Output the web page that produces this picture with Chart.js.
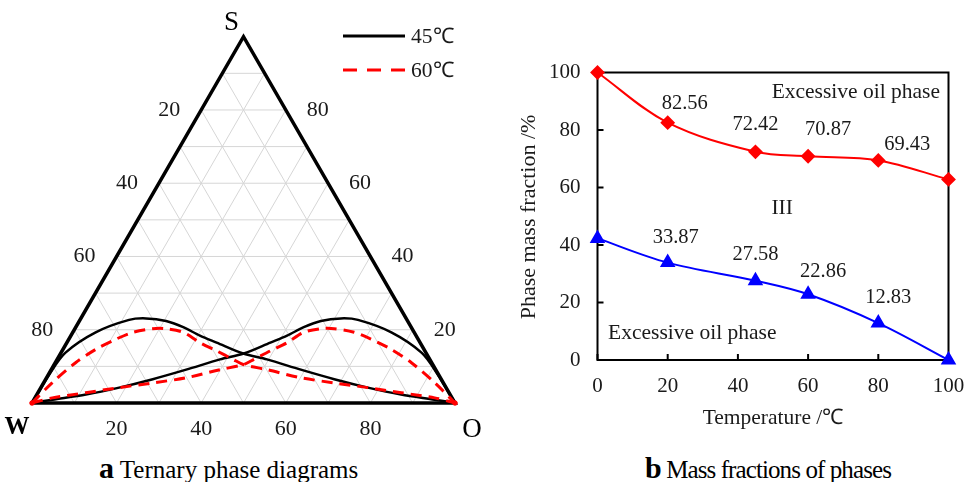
<!DOCTYPE html>
<html>
<head>
<meta charset="utf-8">
<script src="https://cdn.jsdelivr.net/npm/chart.js@4.4.0/dist/chart.umd.min.js"></script>
<style>
html, body { margin: 0; padding: 0; background: #fff; }
body { width: 965px; height: 482px; position: relative; overflow: hidden; font-family: "Liberation Serif", serif; }
#ternWrap { position: absolute; left: 0; top: 0; width: 490px; height: 440px; }
#massWrap { position: absolute; left: 480px; top: 0; width: 485px; height: 440px; }
.caption { position: absolute; top: 451px; font-size: 25px; color: #000; white-space: nowrap; }
.caption b { font-size: 30px; }
.caption.tight { letter-spacing: -0.9px; }
</style>
</head>
<body>
<div id="ternWrap"><canvas id="ternChart" width="490" height="440"></canvas></div>
<div id="massWrap"><canvas id="massChart" width="485" height="440"></canvas></div>
<div class="caption" style="left:99px"><b>a</b> Ternary phase diagrams</div>
<div class="caption tight" style="left:645px"><b>b</b> Mass fractions of phases</div>
<script>
// ---- panel a: ternary phase diagram, compositions in % (S, O; W = 100 - S - O)
const ternTicks = [10, 20, 30, 40, 50, 60, 70, 80, 90];
const ternLabels = [20, 40, 60, 80];

const b45LeftS = [0, 8, 13.7, 19.3, 22.7, 23.1, 22.4, 20.7, 18.4, 16.5, 13.5, 11.9, 9.1, 6.5, 4.2, 2.3, 0.9, 0];
const b45LeftO = [0, 0.2, 1, 5.4, 11.6, 15.4, 20.5, 25.4, 30.5, 35.4, 43.2, 49.6, 59, 68.2, 77.3, 86.1, 94.7, 100];
const b45RightS = [0, 0.9, 2.3, 4.2, 6.5, 9.1, 11.9, 13.5, 16.5, 18.4, 20.7, 22.4, 23.1, 22.7, 19.3, 13.7, 8, 0];
const b45RightO = [0, 4.4, 11.6, 18.5, 25.3, 31.9, 38.5, 43.3, 48.1, 51.1, 53.9, 57.1, 61.5, 65.7, 75.3, 85.3, 91.8, 100];

const b60LeftS = [0, 5.5, 11, 14.7, 17.4, 19.3, 20.3, 20.3, 19.3, 16.5, 14.2, 11.9, 10.5, 9.1, 6.9, 5.5, 4.2, 2.8, 1.4, 0];
const b60LeftO = [0, 2, 4.8, 7.8, 11.1, 14.2, 18.4, 21.5, 26.1, 31.4, 36.6, 41.6, 44.7, 51, 60, 68.6, 77.3, 85.9, 94.5, 100];
const b60RightS = [0, 1.4, 2.8, 4.2, 5.5, 6.9, 9.1, 10.5, 11.9, 14.2, 16.5, 19.3, 20.3, 20.3, 19.3, 17.4, 14.7, 11, 5.5, 0];
const b60RightO = [0, 4.1, 11.3, 18.5, 25.9, 33.1, 39.9, 44.8, 46.5, 49.2, 52.1, 54.6, 58.2, 61.3, 66.5, 71.5, 77.5, 84.2, 92.5, 100];

// ---- panel b: mass fractions
const temps = [0, 20, 45, 60, 80, 100];
const upperPhase = [100, 82.56, 72.42, 70.87, 69.43, 62.8];
const lowerPhase = [42.3, 33.87, 27.58, 22.86, 12.83, 0];
const upperTags = ['', '82.56', '72.42', '70.87', '69.43', ''];
const lowerTags = ['', '33.87', '27.58', '22.86', '12.83', ''];
const axisTicks = [0, 20, 40, 60, 80, 100];

const H = Math.sqrt(3) / 2;
function toXY(s, o) {
    return { x: o + s / 2, y: s * H };
}
function curve(sArr, oArr) {
    return sArr.map((s, i) => toXY(s, oArr[i]));
}

const serif = '"Liberation Serif", "Times New Roman", serif';

// grid lines of the triangle
const gridSets = [];
ternTicks.forEach(k => {
    [[toXY(k, 0), toXY(k, 100 - k)],
     [toXY(0, k), toXY(100 - k, k)],
     [toXY(0, 100 - k), toXY(100 - k, 0)]].forEach(seg => {
        gridSets.push({
            data: seg, showLine: true, borderColor: '#d6d6d6', borderWidth: 1,
            pointRadius: 0, tension: 0, order: 5
        });
    });
});

function endDot(ctx) {
    const n = ctx.dataset.data.length;
    return (ctx.dataIndex === 0 || ctx.dataIndex === n - 1) ? 2.5 : 0;
}

const ternLabelsPlugin = {
    id: 'ternLabels',
    afterDraw(chart) {
        const c = chart.ctx;
        const xs = chart.scales.x, ys = chart.scales.y;
        const px = p => [xs.getPixelForValue(p.x), ys.getPixelForValue(p.y)];
        c.save();
        c.fillStyle = '#1a1a1a';
        c.font = '22px ' + serif;
        c.textAlign = 'center';
        c.textBaseline = 'middle';
        ternLabels.forEach(k => {
            let p = px(toXY(0, k));
            c.fillText(String(k), p[0], p[1] + 26);
            p = px(toXY(100 - k, 0));
            c.fillText(String(k), p[0] - 32, p[1]);
            p = px(toXY(k, 100 - k));
            c.fillText(String(k), p[0] + 32, p[1]);
        });
        c.fillStyle = '#000';
        c.font = '27px ' + serif;
        let p = px(toXY(100, 0));
        c.fillText('S', p[0] - 12, p[1] - 14);
        p = px(toXY(0, 100));
        c.fillText('O', p[0] + 17, p[1] + 27);
        c.font = 'bold 25px ' + serif;
        p = px(toXY(0, 0));
        c.fillText('W', p[0] - 15, p[1] + 25);

        // legend
        c.lineWidth = 3;
        c.strokeStyle = '#000';
        c.beginPath(); c.moveTo(343, 36); c.lineTo(405, 36); c.stroke();
        c.strokeStyle = '#ff0000';
        c.setLineDash([14, 10]);
        c.beginPath(); c.moveTo(343, 70); c.lineTo(405, 70); c.stroke();
        c.setLineDash([]);
        c.fillStyle = '#1a1a1a';
        c.font = '21.5px ' + serif;
        c.textAlign = 'left';
        c.fillText('45\u2103', 411, 37);
        c.fillText('60\u2103', 411, 71);
        c.restore();
    }
};

new Chart(document.getElementById('ternChart'), {
    type: 'scatter',
    data: {
        datasets: [
            { data: curve(b60LeftS, b60LeftO), showLine: true, borderColor: '#ff0000', borderWidth: 3,
              borderDash: [11, 7], tension: 0.3, pointRadius: endDot, pointBackgroundColor: '#ff0000',
              pointBorderWidth: 0, order: 1, clip: false },
            { data: curve(b60RightS, b60RightO), showLine: true, borderColor: '#ff0000', borderWidth: 3,
              borderDash: [11, 7], tension: 0.3, pointRadius: endDot, pointBackgroundColor: '#ff0000',
              pointBorderWidth: 0, order: 1, clip: false },
            { data: curve(b45LeftS, b45LeftO), showLine: true, borderColor: '#000', borderWidth: 2.5,
              tension: 0.3, pointRadius: 0, order: 2, clip: false },
            { data: curve(b45RightS, b45RightO), showLine: true, borderColor: '#000', borderWidth: 2.5,
              tension: 0.3, pointRadius: 0, order: 2, clip: false },
            { data: [toXY(0, 0), toXY(0, 100), toXY(100, 0), toXY(0, 0)], showLine: true,
              borderColor: '#000', borderWidth: 3.5, tension: 0, pointRadius: 0, order: 3, clip: false,
              borderJoinStyle: 'miter' },
            ...gridSets
        ]
    },
    options: {
        responsive: false,
        animation: false,
        layout: { padding: { left: 32, right: 35, top: 36.7, bottom: 37 } },
        scales: {
            x: { type: 'linear', min: 0, max: 100, display: false },
            y: { type: 'linear', min: 0, max: 100 * H, display: false }
        },
        plugins: { legend: { display: false }, tooltip: { enabled: false } }
    },
    plugins: [ternLabelsPlugin]
});

// ---- panel b
const tagShiftUpper = [null, [17, -19], [0, -27], [20, -27], [29, -16], null];
const tagShiftLower = [null, [8, -25], [0, -26], [15, -23], [10, -26], null];
const notes = [
    { text: 'Excessive oil phase', x: 73.6, y: 93.2 },
    { text: 'III', x: 52.6, y: 52.9 },
    { text: 'Excessive oil phase', x: 27, y: 9.4 }
];

const massPlugin = {
    id: 'massDecor',
    beforeDatasetsDraw(chart) {
        const c = chart.ctx, a = chart.chartArea;
        const xs = chart.scales.x, ys = chart.scales.y;
        c.save();
        c.strokeStyle = '#000';
        c.lineWidth = 2;
        c.strokeRect(a.left, a.top, a.right - a.left, a.bottom - a.top);
        c.beginPath();
        axisTicks.forEach(v => {
            const x = xs.getPixelForValue(v);
            c.moveTo(x, a.bottom); c.lineTo(x, a.bottom - 6);
            const y = ys.getPixelForValue(v);
            c.moveTo(a.left, y); c.lineTo(a.left + 6, y);
        });
        c.stroke();
        c.restore();
    },
    afterDraw(chart) {
        const c = chart.ctx;
        const xs = chart.scales.x, ys = chart.scales.y;
        c.save();
        c.fillStyle = '#1a1a1a';
        c.font = '20.5px ' + serif;
        c.textAlign = 'center';
        c.textBaseline = 'middle';
        temps.forEach((t, i) => {
            if (upperTags[i]) {
                const s = tagShiftUpper[i];
                c.fillText(upperTags[i], xs.getPixelForValue(t) + s[0], ys.getPixelForValue(upperPhase[i]) + s[1]);
            }
            if (lowerTags[i]) {
                const s = tagShiftLower[i];
                c.fillText(lowerTags[i], xs.getPixelForValue(t) + s[0], ys.getPixelForValue(lowerPhase[i]) + s[1]);
            }
        });
        c.font = '21.5px ' + serif;
        notes.forEach(n => c.fillText(n.text, xs.getPixelForValue(n.x), ys.getPixelForValue(n.y)));
        c.fillText('Temperature /\u2103', 293, 418);
        c.translate(49, 217);
        c.rotate(-Math.PI / 2);
        c.font = '22px ' + serif;
        c.fillText('Phase mass fraction /%', 0, 0);
        c.restore();
    }
};

const tickFont = { family: serif, size: 21 };

new Chart(document.getElementById('massChart'), {
    type: 'line',
    data: {
        datasets: [{
            data: temps.map((t, i) => ({ x: t, y: upperPhase[i] })),
            borderColor: '#ff0000', backgroundColor: '#ff0000', borderWidth: 2,
            pointStyle: 'rectRot', pointRadius: 6, tension: 0.35, clip: false
        }, {
            data: temps.map((t, i) => ({ x: t, y: lowerPhase[i] })),
            borderColor: '#0000ff', backgroundColor: '#0000ff', borderWidth: 2,
            pointStyle: 'triangle', pointRadius: 7, tension: 0.35, clip: false
        }]
    },
    options: {
        responsive: false,
        animation: false,
        layout: { padding: { left: 0, right: 16.5, top: 72.5, bottom: 0 } },
        scales: {
            x: {
                type: 'linear', min: 0, max: 100,
                afterBuildTicks: s => { s.ticks = axisTicks.map(v => ({ value: v })); },
                afterFit: s => { s.height = 80; s.paddingLeft = 0; s.paddingRight = 0; },
                grid: { display: false, drawTicks: false },
                border: { display: false },
                ticks: { font: tickFont, color: '#1a1a1a', padding: 14, maxRotation: 0 }
            },
            y: {
                type: 'linear', min: 0, max: 100,
                afterBuildTicks: s => { s.ticks = axisTicks.map(v => ({ value: v })); },
                afterFit: s => { s.width = 117.5; s.paddingTop = 0; s.paddingBottom = 0; },
                grid: { display: false, drawTicks: false },
                border: { display: false },
                ticks: { font: tickFont, color: '#1a1a1a', padding: 17 }
            }
        },
        plugins: { legend: { display: false }, tooltip: { enabled: false } }
    },
    plugins: [massPlugin]
});
</script>
</body>
</html>
